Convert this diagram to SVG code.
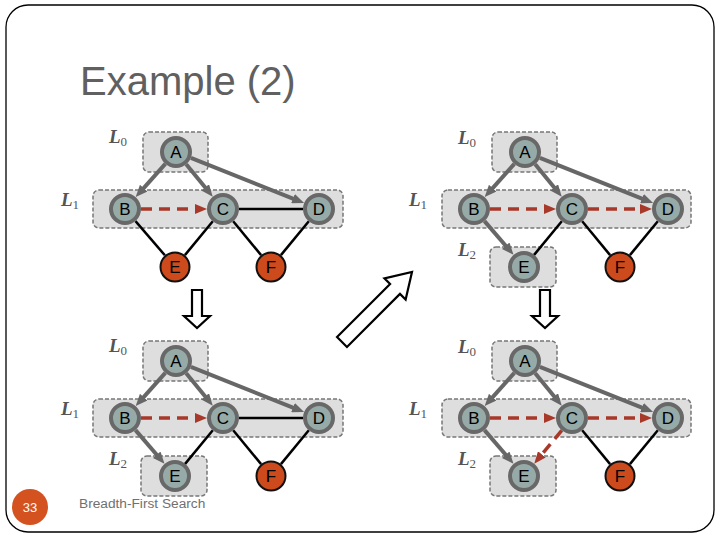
<svg xmlns="http://www.w3.org/2000/svg" width="720" height="540" viewBox="0 0 720 540">
<defs>
<style>
.frame{fill:#fff;stroke:#000;stroke-width:1.3}
.box{fill:#dedede;stroke:#777;stroke-width:1.5;stroke-dasharray:4 2}
.gn{fill:#96aaa7;stroke:#686868;stroke-width:4}
.on{fill:#cc4a1c;stroke:#111;stroke-width:2}
.nl{font-family:"Liberation Sans",Arial,sans-serif;font-size:17px;fill:#000;text-anchor:middle}
.lv{font-family:"Liberation Serif","Times New Roman",serif;font-size:19px;font-style:italic;font-weight:bold;fill:#555}
.sub{font-size:13px;font-style:normal;font-weight:normal}
.ga{stroke:#676767;stroke-width:4;fill:none;marker-end:url(#ag)}
.ra{stroke:#a8392a;stroke-width:3.5;fill:none;stroke-dasharray:11 7;marker-end:url(#ar)}
.bl{stroke:#000;stroke-width:2.5;fill:none}
.blk{fill:#fff;stroke:#000;stroke-width:2.2;stroke-linejoin:miter}
</style>
<marker id="ag" viewBox="0 0 12 10" refX="4" refY="5" markerWidth="12" markerHeight="10" markerUnits="userSpaceOnUse" orient="auto"><path d="M0,0 L12,5 L0,10 z" fill="#676767"/></marker>
<marker id="ar" viewBox="0 0 12 10" refX="4" refY="5" markerWidth="12" markerHeight="10" markerUnits="userSpaceOnUse" orient="auto"><path d="M0,0 L12,5 L0,10 z" fill="#a8392a"/></marker>
</defs>
<rect class="frame" x="6" y="5" width="708" height="527" rx="22"/>
<text x="80" y="95" font-family="'Liberation Sans',Arial,sans-serif" font-size="40" fill="#606060">Example (2)</text>

<!-- Panel 1 -->
<g id="panel1">
<rect class="box" x="143" y="132" width="65" height="40" rx="6"/>
<rect class="box" x="93" y="190" width="250" height="38" rx="6"/>
<text class="lv" x="109" y="143">L<tspan class="sub" dy="3">0</tspan></text>
<text class="lv" x="61" y="206">L<tspan class="sub" dy="3">1</tspan></text>
<g id="p1-connectors">
<line class="ga" x1="165.3" y1="163.9" x2="141" y2="191.1"/>
<line class="ga" x1="186.2" y1="164.3" x2="207.7" y2="190.5"/>
<line class="ga" x1="190.9" y1="157.9" x2="296.7" y2="200.1"/>
<line class="ra" x1="141" y1="209" x2="199" y2="209"/>
<line class="bl" x1="239" y1="209" x2="303" y2="209"/>
<line class="bl" x1="135.5" y1="221.1" x2="164.9" y2="255.3"/>
<line class="bl" x1="212.8" y1="221.3" x2="184.9" y2="255.1"/>
<line class="bl" x1="233.2" y1="221.3" x2="261.1" y2="255.1"/>
<line class="bl" x1="308.8" y1="221.3" x2="280.9" y2="255.1"/>
</g>
<g id="p1-A"><circle class="gn" cx="176" cy="152" r="14"/><text class="nl" x="176" y="158">A</text></g>
<g id="p1-B"><circle class="gn" cx="125" cy="209" r="14"/><text class="nl" x="125" y="215">B</text></g>
<g id="p1-C"><circle class="gn" cx="223" cy="209" r="14"/><text class="nl" x="223" y="215">C</text></g>
<g id="p1-D"><circle class="gn" cx="319" cy="209" r="14"/><text class="nl" x="319" y="215">D</text></g>
<g id="p1-E"><circle class="on" cx="175" cy="267" r="14.5"/><text class="nl" x="175" y="273">E</text></g>
<g id="p1-F"><circle class="on" cx="271" cy="267" r="14.5"/><text class="nl" x="271" y="273">F</text></g>
</g>

<!-- Panel 2 -->
<g id="panel2" transform="translate(349,0)">
<rect class="box" x="143" y="132" width="65" height="40" rx="6"/>
<rect class="box" x="93" y="190" width="249" height="38" rx="6"/>
<rect class="box" x="141" y="247" width="66" height="40" rx="6"/>
<text class="lv" x="109" y="144">L<tspan class="sub" dy="3">0</tspan></text>
<text class="lv" x="60" y="206">L<tspan class="sub" dy="3">1</tspan></text>
<text class="lv" x="109" y="256">L<tspan class="sub" dy="3">2</tspan></text>
<g id="p2-connectors">
<line class="ga" x1="165.3" y1="163.9" x2="141" y2="191.1"/>
<line class="ga" x1="186.2" y1="164.3" x2="207.7" y2="190.5"/>
<line class="ga" x1="190.9" y1="157.9" x2="296.7" y2="200.1"/>
<line class="ra" x1="141" y1="209" x2="199" y2="209"/>
<line class="ra" x1="239" y1="209" x2="295" y2="209"/>
<line class="ga" x1="135.5" y1="221.1" x2="159.3" y2="248.8"/>
<line class="bl" x1="212.8" y1="221.3" x2="184.9" y2="255.1"/>
<line class="bl" x1="233.2" y1="221.3" x2="261.1" y2="255.1"/>
<line class="bl" x1="308.8" y1="221.3" x2="280.9" y2="255.1"/>
</g>
<g id="p2-A"><circle class="gn" cx="176" cy="152" r="14"/><text class="nl" x="176" y="158">A</text></g>
<g id="p2-B"><circle class="gn" cx="125" cy="209" r="14"/><text class="nl" x="125" y="215">B</text></g>
<g id="p2-C"><circle class="gn" cx="223" cy="209" r="14"/><text class="nl" x="223" y="215">C</text></g>
<g id="p2-D"><circle class="gn" cx="319" cy="209" r="14"/><text class="nl" x="319" y="215">D</text></g>
<g id="p2-E"><circle class="gn" cx="175" cy="267" r="14"/><text class="nl" x="175" y="273">E</text></g>
<g id="p2-F"><circle class="on" cx="271" cy="267" r="14.5"/><text class="nl" x="271" y="273">F</text></g>
</g>

<!-- Panel 3 -->
<g id="panel3" transform="translate(0,209)">
<rect class="box" x="143" y="132" width="65" height="40" rx="6"/>
<rect class="box" x="93" y="190" width="250" height="38" rx="6"/>
<rect class="box" x="141" y="247" width="66" height="40" rx="6"/>
<text class="lv" x="109" y="143">L<tspan class="sub" dy="3">0</tspan></text>
<text class="lv" x="61" y="206">L<tspan class="sub" dy="3">1</tspan></text>
<text class="lv" x="109" y="256">L<tspan class="sub" dy="3">2</tspan></text>
<g id="p3-connectors">
<line class="ga" x1="165.3" y1="163.9" x2="141" y2="191.1"/>
<line class="ga" x1="186.2" y1="164.3" x2="207.7" y2="190.5"/>
<line class="ga" x1="190.9" y1="157.9" x2="296.7" y2="200.1"/>
<line class="ra" x1="141" y1="209" x2="199" y2="209"/>
<line class="bl" x1="239" y1="209" x2="303" y2="209"/>
<line class="ga" x1="135.5" y1="221.1" x2="159.3" y2="248.8"/>
<line class="bl" x1="212.8" y1="221.3" x2="184.9" y2="255.1"/>
<line class="bl" x1="233.2" y1="221.3" x2="261.1" y2="255.1"/>
<line class="bl" x1="308.8" y1="221.3" x2="280.9" y2="255.1"/>
</g>
<g id="p3-A"><circle class="gn" cx="176" cy="152" r="14"/><text class="nl" x="176" y="158">A</text></g>
<g id="p3-B"><circle class="gn" cx="125" cy="209" r="14"/><text class="nl" x="125" y="215">B</text></g>
<g id="p3-C"><circle class="gn" cx="223" cy="209" r="14"/><text class="nl" x="223" y="215">C</text></g>
<g id="p3-D"><circle class="gn" cx="319" cy="209" r="14"/><text class="nl" x="319" y="215">D</text></g>
<g id="p3-E"><circle class="gn" cx="175" cy="267" r="14"/><text class="nl" x="175" y="273">E</text></g>
<g id="p3-F"><circle class="on" cx="271" cy="267" r="14.5"/><text class="nl" x="271" y="273">F</text></g>
</g>

<!-- Panel 4 -->
<g id="panel4" transform="translate(349,209)">
<rect class="box" x="143" y="132" width="65" height="40" rx="6"/>
<rect class="box" x="93" y="190" width="249" height="38" rx="6"/>
<rect class="box" x="141" y="247" width="66" height="40" rx="6"/>
<text class="lv" x="109" y="144">L<tspan class="sub" dy="3">0</tspan></text>
<text class="lv" x="60" y="206">L<tspan class="sub" dy="3">1</tspan></text>
<text class="lv" x="109" y="256">L<tspan class="sub" dy="3">2</tspan></text>
<g id="p4-connectors">
<line class="ga" x1="165.3" y1="163.9" x2="141" y2="191.1"/>
<line class="ga" x1="186.2" y1="164.3" x2="207.7" y2="190.5"/>
<line class="ga" x1="190.9" y1="157.9" x2="296.7" y2="200.1"/>
<line class="ra" x1="141" y1="209" x2="199" y2="209"/>
<line class="ra" x1="239" y1="209" x2="295" y2="209"/>
<line class="ga" x1="135.5" y1="221.1" x2="159.3" y2="248.8"/>
<line class="ra" x1="212.8" y1="221.3" x2="190.3" y2="248.5"/>
<line class="bl" x1="233.2" y1="221.3" x2="261.1" y2="255.1"/>
<line class="bl" x1="308.8" y1="221.3" x2="280.9" y2="255.1"/>
</g>
<g id="p4-A"><circle class="gn" cx="176" cy="152" r="14"/><text class="nl" x="176" y="158">A</text></g>
<g id="p4-B"><circle class="gn" cx="125" cy="209" r="14"/><text class="nl" x="125" y="215">B</text></g>
<g id="p4-C"><circle class="gn" cx="223" cy="209" r="14"/><text class="nl" x="223" y="215">C</text></g>
<g id="p4-D"><circle class="gn" cx="319" cy="209" r="14"/><text class="nl" x="319" y="215">D</text></g>
<g id="p4-E"><circle class="gn" cx="175" cy="267" r="14"/><text class="nl" x="175" y="273">E</text></g>
<g id="p4-F"><circle class="on" cx="271" cy="267" r="14.5"/><text class="nl" x="271" y="273">F</text></g>
</g>

<!-- block arrows -->
<g id="arrows">
<polygon class="blk" points="192,290 202,290 202,316 210,316 197,328 184,316 192,316"/>
<polygon class="blk" points="540,290 550,290 550,316 558,316 545,328 532,316 540,316"/>
<polygon class="blk" transform="translate(342,342) rotate(-45)" points="0,-7 75,-7 75,-15 99,0 75,15 75,7 0,7"/>
</g>

<g id="footer">
<circle cx="30" cy="507" r="18" fill="#d4521f"/>
<text x="30" y="512" font-family="'Liberation Sans',Arial,sans-serif" font-size="13" fill="#fff" text-anchor="middle">33</text>
<text x="79" y="508" font-family="'Liberation Sans',Arial,sans-serif" font-size="13.7" fill="#707070">Breadth-First Search</text>
</g>
</svg>
